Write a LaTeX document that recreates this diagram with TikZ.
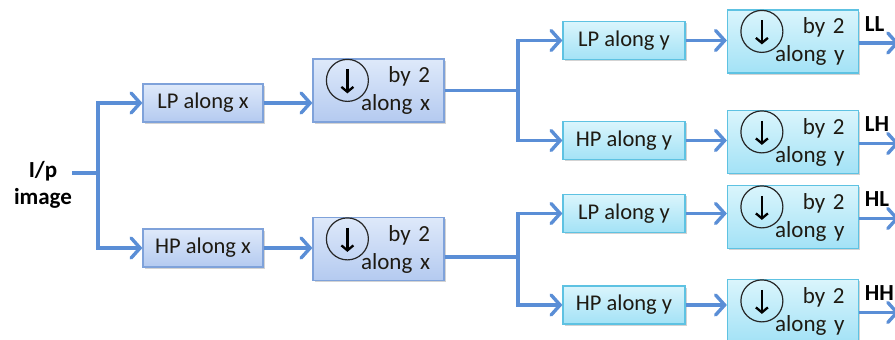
\documentclass[tikz,border=0pt]{standalone}
\usepackage{fontspec}
\setmainfont{Carlito}
\usetikzlibrary{arrows.meta,positioning,calc,shadows}
\definecolor{dwtflow}{HTML}{5A8ED6}
\definecolor{dwtxedge}{HTML}{7FA2DA}
\definecolor{dwtxtop}{HTML}{DEE9FA}
\definecolor{dwtxbot}{HTML}{B4CAF0}
\definecolor{dwtyedge}{HTML}{5EC2E2}
\definecolor{dwtytop}{HTML}{DAF5FC}
\definecolor{dwtybot}{HTML}{A3E2F6}
\definecolor{dwttext}{HTML}{1E1A12}

\begin{document}
\begin{tikzpicture}[
    x=1pt, y=-1pt,
    font=\fontsize{22.5}{27}\selectfont,
    text=dwttext,
    boxshadow/.style={drop shadow={shadow xshift=1.5pt,shadow yshift=-1.5pt,opacity=0.35}},
    filtx/.style={
        draw=dwtxedge,
        top color=dwtxtop,
        bottom color=dwtxbot,
        line width=1.2pt,
        minimum width=120pt,
        minimum height=38pt,
        inner sep=0pt,
        boxshadow
    },
    filty/.style={
        filtx,
        draw=dwtyedge,
        top color=dwtytop,
        bottom color=dwtybot,
        minimum width=122pt
    },
    downx/.style={
        filtx,
        minimum width=131pt,
        minimum height=63pt,
        text width=103pt,
        inner xsep=14pt,
        align=right,
        font=\fontsize{23}{28}\selectfont
    },
    downy/.style={
        downx,
        draw=dwtyedge,
        top color=dwtytop,
        bottom color=dwtybot,
        minimum width=130pt
    },
    band/.style={font=\fontsize{23}{27}\selectfont\bfseries, text=black, inner sep=0pt},
    link/.style={draw=dwtflow, line width=3.4pt},
    flow/.style={link, -{Straight Barb[length=9pt,width=20pt,line cap=round]}}
]
\useasboundingbox (0,0) rectangle (895,340);
\clip (0,0) rectangle (895,340);

% Input and the split along x
\node[band, align=center] (inp) at (43,185) {I/p\\image};
\coordinate (sx) at (98,173);

\node[filtx] (lpx) at (203,103) {LP along x};
\node[filtx] (hpx) at (203,248) {HP along x};

\node[downx] (dx1) at (378.5,90.5) {by 2\\along x};
\node[downx] (dx2) at (378.5,249) {by 2\\along x};

% Second stage, along y
\node[filty] (lpy1) at (624,40.5) {LP along y};
\node[filty] (hpy1) at (624,140.5) {HP along y};
\node[filty] (lpy2) at (624,213.5) {LP along y};
\node[filty] (hpy2) at (624,305) {HP along y};

\node[downy] (dy1) at (793,41.5) {by 2\\along y};
\node[downy] (dy2) at (793,142) {by 2\\along y};
\node[downy] (dy3) at (793,217) {by 2\\along y};
\node[downy] (dy4) at (793,311) {by 2\\along y};

% Downsampling symbol
\foreach \d in {dx1,dx2,dy1,dy2,dy3,dy4} {
    \draw[black!85, line width=1.2pt] ($(\d.north west)+(35,22)$) circle[radius=21pt];
    \draw[black, line width=2.3pt, -{Straight Barb[length=5pt,width=12pt]}]
        ($(\d.north west)+(35,11)$) -- ++(0,24);
}

% Connectors
\coordinate (j1) at (518,90.5);
\coordinate (j2) at (518,257);

\draw[link] (inp.east |- sx) -- (sx);
\draw[flow] (sx) |- (lpx.west);
\draw[flow] (sx) |- (hpx.west);

\draw[flow] (lpx.east) -- (lpx.east -| dx1.west);
\draw[flow] (hpx.east) -- (hpx.east -| dx2.west);

\draw[link] (dx1.east |- j1) -- (j1);
\draw[flow] (j1) |- (lpy1.west);
\draw[flow] (j1) |- (hpy1.west);
\draw[link] (dx2.east |- j2) -- (j2);
\draw[flow] (j2) |- (lpy2.west);
\draw[flow] (j2) |- (hpy2.west);

\foreach \f/\d in {lpy1/dy1,hpy1/dy2,lpy2/dy3,hpy2/dy4}
    \draw[flow] (\f.east) -- (\f.east -| \d.west);

% Sub-bands
\foreach \d/\b in {dy1/LL,dy2/LH,dy3/HL,dy4/HH}
    \draw[flow] ($(\d.east)+(0,1.5)$) -- ++(40,0)
        node[band, pos=0.1, anchor=south west, yshift=10pt] {\b};

\end{tikzpicture}
\end{document}
